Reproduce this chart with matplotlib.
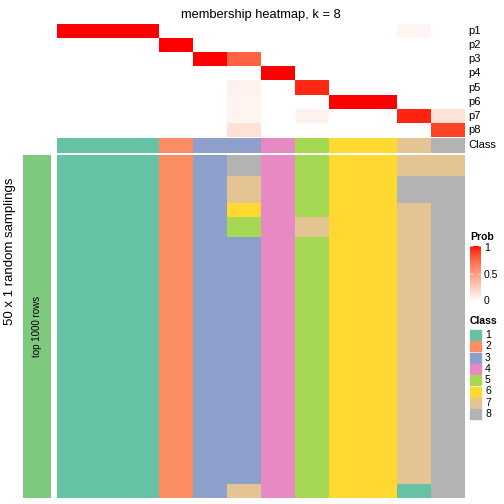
import numpy as np
import matplotlib
matplotlib.use('Agg')
import matplotlib.pyplot as plt
from matplotlib.colors import ListedColormap
from matplotlib.patches import Rectangle

plt.rcParams['font.family'] = ['Liberation Sans', 'DejaVu Sans']

# class of each consensus column (12 columns)
col_class = [1, 1, 1, 2, 3, 3, 4, 5, 6, 6, 7, 8]

# membership probabilities p1..p8 per column
prob = np.array([
    # c1   c1   c1   c2   c3   c3    c4   c5    c6   c6   c7    c8
    [1.0, 1.0, 1.0, 0.0, 0.0, 0.0,  0.0, 0.0,  0.0, 0.0, 0.05, 0.0],   # p1
    [0.0, 0.0, 0.0, 1.0, 0.0, 0.0,  0.0, 0.0,  0.0, 0.0, 0.0,  0.0],   # p2
    [0.0, 0.0, 0.0, 0.0, 1.0, 0.77, 0.0, 0.0,  0.0, 0.0, 0.0,  0.0],   # p3
    [0.0, 0.0, 0.0, 0.0, 0.0, 0.0,  1.0, 0.0,  0.0, 0.0, 0.0,  0.0],   # p4
    [0.0, 0.0, 0.0, 0.0, 0.0, 0.07, 0.0, 0.95, 0.0, 0.0, 0.0,  0.0],   # p5
    [0.0, 0.0, 0.0, 0.0, 0.0, 0.06, 0.0, 0.0,  1.0, 1.0, 0.0,  0.0],   # p6
    [0.0, 0.0, 0.0, 0.0, 0.0, 0.06, 0.0, 0.07, 0.0, 0.0, 0.96, 0.16],  # p7
    [0.0, 0.0, 0.0, 0.0, 0.0, 0.16, 0.0, 0.0,  0.0, 0.0, 0.0,  0.88],  # p8
])
prob_labels = ['p1', 'p2', 'p3', 'p4', 'p5', 'p6', 'p7', 'p8']

# class in each of the 50 random samplings, run-length coded per column (class, n rows)
sampling_runs = [
    [(1, 50)], [(1, 50)], [(1, 50)],
    [(2, 50)],
    [(3, 50)],
    [(8, 3), (7, 4), (6, 2), (5, 3), (3, 36), (7, 2)],
    [(4, 50)],
    [(5, 9), (7, 3), (5, 38)],
    [(6, 50)], [(6, 50)],
    [(7, 3), (8, 4), (7, 41), (1, 2)],
    [(7, 3), (8, 47)],
]

class_colors = ['#66C2A5', '#FC8D62', '#8DA0CB', '#E78AC3',
                '#A6D854', '#FFD92F', '#E5C494', '#B3B3B3']

samplings = np.array([[c for c, n in runs for _ in range(n)] for runs in sampling_runs]).T


def lab_to_rgb(L, a, b):
    fy = (L + 16) / 116
    fx = fy + a / 500
    fz = fy - b / 200

    def finv(t):
        return t ** 3 if t ** 3 > 0.008856 else (t - 16 / 116) / 7.787
    X, Y, Z = 0.95047 * finv(fx), finv(fy), 1.08883 * finv(fz)
    rgb = [3.2406 * X - 1.5372 * Y - 0.4986 * Z,
           -0.9689 * X + 1.8758 * Y + 0.0415 * Z,
           0.0557 * X - 0.2040 * Y + 1.0570 * Z]
    out = []
    for c in rgb:
        c = 12.92 * c if c <= 0.0031308 else 1.055 * c ** (1 / 2.4) - 0.055
        out.append(min(max(c, 0), 1))
    return out


# white -> red, interpolated in LAB like colorRamp2
white_lab = np.array([100.0, 0.0, 0.0])
red_lab = np.array([53.24, 80.09, 67.20])
prob_cmap = ListedColormap([lab_to_rgb(*(white_lab + t * (red_lab - white_lab)))
                            for t in np.linspace(0, 1, 256)])
class_cmap = ListedColormap(class_colors)
ncol = len(col_class)

W = H = 504
fig = plt.figure(figsize=(5.04, 5.04), dpi=100)


def px_axes(x0, y0, x1, y1):
    return fig.add_axes([x0 / W, 1 - y1 / H, (x1 - x0) / W, (y1 - y0) / H])


# probability heatmap
ax_p = px_axes(57, 24, 465, 137)
ax_p.pcolormesh(prob, cmap=prob_cmap, vmin=0, vmax=1)
ax_p.set_xlim(0, ncol)
ax_p.set_ylim(prob.shape[0], 0)
ax_p.axis('off')
for i, lab in enumerate(prob_labels):
    ax_p.text(ncol + 0.1, i + 0.5, lab, va='center', ha='left', fontsize=8)
ax_p.set_title('membership heatmap, k = 8', fontsize=9.3, pad=4)

# class annotation row
ax_c = px_axes(57, 138, 465, 153)
ax_c.pcolormesh(np.array([col_class]), cmap=class_cmap, vmin=0.5, vmax=8.5)
ax_c.set_xlim(0, ncol)
ax_c.set_ylim(1, 0)
ax_c.axis('off')
ax_c.text(ncol + 0.1, 0.5, 'Class', va='center', ha='left', fontsize=8)

# random samplings
ax_s = px_axes(57, 155, 465, 498)
ax_s.pcolormesh(samplings, cmap=class_cmap, vmin=0.5, vmax=8.5)
ax_s.set_xlim(0, ncol)
ax_s.set_ylim(samplings.shape[0], 0)
ax_s.axis('off')

# left annotation bar
ax_l = px_axes(23, 155, 51, 498)
ax_l.add_patch(Rectangle((0, 0), 1, 1, color='#7FC97F'))
ax_l.text(0.5, 0.5, 'top 1000 rows', rotation=90, ha='center', va='center', fontsize=7)
ax_l.axis('off')
fig.text(10 / W, 1 - 251 / H, '50 x 1 random samplings', rotation=90,
         ha='center', va='center', fontsize=9.5)

# Prob legend
ax_cb = px_axes(470, 246, 481, 302)
grad = np.linspace(1, 0, 100).reshape(-1, 1)
ax_cb.imshow(grad, cmap=prob_cmap, vmin=0, vmax=1, aspect='auto', extent=(0, 1, 0, 1))
for v in [1, 0.5, 0]:
    ax_cb.plot([0, 0.2], [v, v], color='white', lw=0.8, alpha=0.6)
    ax_cb.plot([0.8, 1], [v, v], color='white', lw=0.8, alpha=0.6)
ax_cb.set_xlim(0, 1)
ax_cb.set_ylim(0, 1)
ax_cb.axis('off')
for v in [1, 0.5, 0]:
    yy = 301 - v * 53
    fig.text(484 / W, 1 - yy / H, ('%g' % v), va='center', ha='left', fontsize=7.5)
fig.text(470 / W, 1 - 237 / H, 'Prob', va='center', ha='left', fontsize=7.5, fontweight='bold')

# Class legend
fig.text(470 / W, 1 - 321 / H, 'Class', va='center', ha='left', fontsize=7.5, fontweight='bold')
for k, col in enumerate(class_colors):
    y0 = 330 + k * 11.3
    fig.patches.append(Rectangle((470 / W, 1 - (y0 + 10) / H), 11 / W, 10 / H,
                                 transform=fig.transFigure, color=col, figure=fig))
    fig.text(485 / W, 1 - (y0 + 5) / H, str(k + 1), va='center', ha='left', fontsize=7.5)

fig.savefig('out.png', dpi=100)
